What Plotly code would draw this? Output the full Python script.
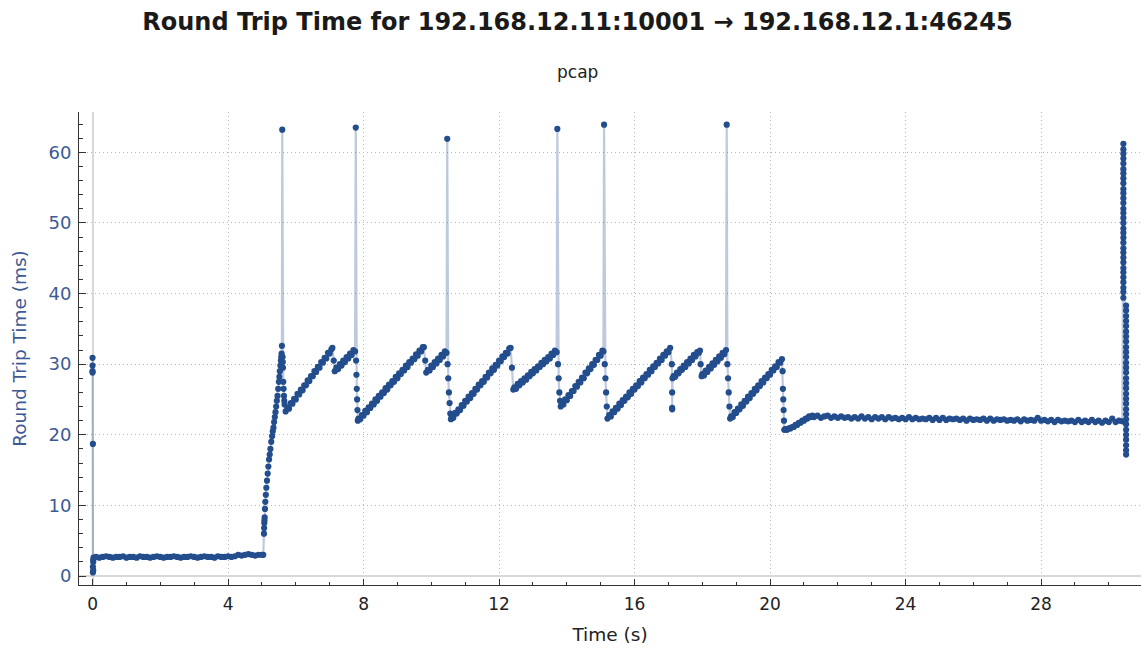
import plotly.graph_objects as go

# ---- data (time in s, RTT in ms) ----
start_t = [0.00, 0.00, 0.00, 0.00, 0.01, 0.01, 0.01, 0.02, 0.02, 0.02, 0.03]
start_v = [30.9, 29.8, 29.0, 28.8, 18.7, 0.5, 1.3, 2.0, 0.8, 2.3, 2.6]

flat0_t = [0.1, 0.2, 0.3, 0.4, 0.5, 0.6, 0.7, 0.8, 0.9, 1.0,
           1.1, 1.2, 1.3, 1.4, 1.5, 1.6, 1.7, 1.8, 1.9, 2.0,
           2.1, 2.2, 2.3, 2.4, 2.5, 2.6, 2.7, 2.8, 2.9, 3.0,
           3.1, 3.2, 3.3, 3.4, 3.5, 3.6, 3.7, 3.8, 3.9, 4.0,
           4.1, 4.2, 4.3, 4.4, 4.5, 4.6, 4.7, 4.8, 4.9, 5.0, 5.04]
flat0_v = [2.7, 2.6, 2.7, 2.8, 2.7, 2.6, 2.7, 2.7, 2.8, 2.6,
           2.7, 2.7, 2.6, 2.8, 2.7, 2.7, 2.6, 2.7, 2.8, 2.7,
           2.6, 2.7, 2.7, 2.8, 2.7, 2.6, 2.7, 2.7, 2.8, 2.7,
           2.6, 2.7, 2.8, 2.7, 2.7, 2.6, 2.8, 2.7, 2.7, 2.8,
           2.7, 2.8, 3.0, 2.9, 3.0, 3.1, 3.0, 2.9, 3.0, 3.0, 3.0]

# ramp up, first spike and drop
ramp_t = [5.06, 5.065, 5.07, 5.075, 5.08, 5.09, 5.10, 5.115, 5.13, 5.15, 5.17, 5.19,
          5.21, 5.23, 5.25, 5.275, 5.30, 5.32, 5.34, 5.36, 5.38, 5.40, 5.42, 5.44,
          5.46, 5.48, 5.50, 5.515, 5.53, 5.545, 5.56, 5.57, 5.58, 5.59, 5.60,
          5.61, 5.615, 5.62, 5.63, 5.64, 5.65, 5.66, 5.67, 5.70]
ramp_v = [6.0, 6.8, 7.5, 7.9, 8.3, 9.5, 10.5, 11.5, 12.5, 13.5, 14.5, 15.5,
          16.5, 17.2, 18.0, 19.0, 19.8, 20.5, 21.0, 21.8, 22.5, 23.2, 24.0, 24.8,
          25.5, 26.5, 27.5, 28.2, 29.0, 29.8, 30.5, 31.0, 31.5, 32.6, 63.2,
          31.0, 30.3, 29.5, 27.5, 26.5, 25.5, 24.8, 24.3, 23.3]

# tooth 1 (5.75 s .. spike at 7.77 s)
tooth1_t = [5.75, 5.80, 5.85, 5.90, 5.95, 6.00, 6.05, 6.10, 6.15, 6.20, 6.25, 6.30,
            6.35, 6.40, 6.45, 6.50, 6.55, 6.60, 6.65, 6.70, 6.75, 6.80, 6.85, 6.90,
            6.95, 7.00, 7.05, 7.08, 7.12, 7.15,
            7.20, 7.25, 7.30, 7.35, 7.40, 7.45, 7.50, 7.55, 7.60, 7.65, 7.70, 7.75,
            7.77, 7.78, 7.79, 7.80, 7.81, 7.82, 7.83]
tooth1_v = [23.8, 23.7, 24.5, 24.4, 25.1, 25.0, 25.8, 25.7, 26.4, 26.3, 27.0, 27.0,
            27.7, 27.6, 28.3, 28.3, 29.0, 28.9, 29.6, 29.5, 30.3, 30.2, 30.9, 30.8,
            31.6, 31.5, 32.1, 32.3, 30.5, 29.0,
            29.5, 29.3, 30.0, 29.8, 30.5, 30.3, 31.0, 30.8, 31.5, 31.3, 32.0, 31.8,
            63.5, 30.5, 28.5, 26.5, 25.0, 23.5, 22.0]

# tooth 2 (7.85 s .. spike at 10.47 s)
tooth2_t = [7.85, 7.90, 7.95, 8.00, 8.05, 8.10, 8.15, 8.20, 8.25, 8.30, 8.35, 8.40,
            8.45, 8.50, 8.55, 8.60, 8.65, 8.70, 8.75, 8.80, 8.85, 8.90, 8.95, 9.00,
            9.05, 9.10, 9.15, 9.20, 9.25, 9.30, 9.35, 9.40, 9.45, 9.50, 9.55, 9.60,
            9.65, 9.70, 9.75, 9.78, 9.82, 9.85,
            9.90, 9.95, 10.00, 10.05, 10.10, 10.15, 10.20, 10.25, 10.30, 10.35, 10.40,
            10.45, 10.47, 10.48, 10.50, 10.52, 10.54, 10.56, 10.58]
tooth2_v = [22.3, 22.2, 22.8, 22.7, 23.4, 23.2, 23.9, 23.8, 24.4, 24.3, 25.0, 24.8,
            25.5, 25.4, 26.0, 25.9, 26.6, 26.4, 27.1, 27.0, 27.6, 27.5, 28.2, 28.0,
            28.7, 28.6, 29.2, 29.1, 29.8, 29.6, 30.3, 30.2, 30.8, 30.7, 31.4, 31.2,
            31.9, 31.8, 32.4, 32.4, 30.5, 28.8,
            29.2, 29.1, 29.8, 29.6, 30.3, 30.1, 30.8, 30.6, 31.3, 31.1, 31.8,
            31.6, 61.9, 30.0, 28.0, 26.0, 24.5, 23.0, 22.2]

# tooth 3 (10.60 s .. spike at 13.72 s)
tooth3_t = [10.60, 10.65, 10.70, 10.75, 10.80, 10.85, 10.90, 10.95, 11.00, 11.05,
            11.10, 11.15, 11.20, 11.25, 11.30, 11.35, 11.40, 11.45, 11.50, 11.55,
            11.60, 11.65, 11.70, 11.75, 11.80, 11.85, 11.90, 11.95, 12.00, 12.05,
            12.10, 12.15, 12.20, 12.25, 12.30, 12.34, 12.38, 12.42,
            12.45, 12.50, 12.55, 12.60, 12.65, 12.70, 12.75, 12.80, 12.85, 12.90,
            12.95, 13.00, 13.05, 13.10, 13.15, 13.20, 13.25, 13.30, 13.35, 13.40,
            13.45, 13.50, 13.55, 13.60, 13.65, 13.70,
            13.72, 13.74, 13.76, 13.78, 13.80, 13.82]
tooth3_v = [22.5, 22.4, 23.1, 23.0, 23.6, 23.5, 24.2, 24.1, 24.8, 24.7,
            25.4, 25.2, 25.9, 25.8, 26.5, 26.4, 27.1, 27.0, 27.6, 27.5,
            28.2, 28.1, 28.8, 28.7, 29.4, 29.2, 29.9, 29.8, 30.5, 30.4,
            31.1, 31.0, 31.6, 31.5, 32.2, 32.3, 29.5, 26.4,
            26.7, 26.5, 27.2, 27.0, 27.6, 27.4, 28.0, 27.8, 28.4, 28.3,
            28.9, 28.7, 29.3, 29.1, 29.7, 29.6, 30.2, 30.0, 30.6, 30.4,
            31.0, 30.8, 31.5, 31.3, 31.9, 31.7,
            63.3, 30.0, 28.0, 26.0, 24.8, 24.0]

# tooth 4 (13.85 s .. spike at 15.10 s)
tooth4_t = [13.85, 13.90, 13.95, 14.00, 14.05, 14.10, 14.15, 14.20, 14.25, 14.30,
            14.35, 14.40, 14.45, 14.50, 14.55, 14.60, 14.65, 14.70, 14.75, 14.80,
            14.85, 14.90, 14.95, 15.00, 15.05, 15.08,
            15.10, 15.12, 15.14, 15.16, 15.18, 15.20]
tooth4_v = [24.4, 24.3, 25.0, 24.9, 25.6, 25.5, 26.2, 26.2, 26.9, 26.8,
            27.5, 27.4, 28.1, 28.0, 28.8, 28.7, 29.4, 29.3, 30.0, 29.9,
            30.6, 30.6, 31.3, 31.2, 31.9, 31.8,
            63.9, 30.0, 28.0, 26.0, 24.0, 22.3]

# tooth 5 (15.25 s .. spike at 18.72 s)
tooth5_t = [15.25, 15.30, 15.35, 15.40, 15.45, 15.50, 15.55, 15.60, 15.65, 15.70,
            15.75, 15.80, 15.85, 15.90, 15.95, 16.00, 16.05, 16.10, 16.15, 16.20,
            16.25, 16.30, 16.35, 16.40, 16.45, 16.50, 16.55, 16.60, 16.65, 16.70,
            16.75, 16.80, 16.85, 16.90, 16.95, 17.00, 17.05,
            17.10, 17.11, 17.11, 17.11, 17.12,
            17.15, 17.20, 17.25, 17.30, 17.35, 17.40, 17.45, 17.50, 17.55, 17.60,
            17.65, 17.70, 17.75, 17.80, 17.85, 17.90, 17.93, 17.95, 17.98,
            18.00, 18.05, 18.10, 18.15, 18.20, 18.25, 18.30, 18.35, 18.40, 18.45,
            18.50, 18.55, 18.60, 18.65, 18.70,
            18.72, 18.74, 18.76, 18.78, 18.80, 18.82]
tooth5_v = [22.8, 22.6, 23.3, 23.2, 23.8, 23.7, 24.4, 24.2, 24.9, 24.8,
            25.4, 25.3, 26.0, 25.8, 26.5, 26.4, 27.0, 26.9, 27.6, 27.4,
            28.1, 28.0, 28.6, 28.5, 29.2, 29.0, 29.7, 29.6, 30.2, 30.1,
            30.8, 30.6, 31.3, 31.2, 31.8, 31.7, 32.3,
            30.0, 26.0, 23.6, 23.8, 28.0,
            28.3, 28.2, 28.8, 28.7, 29.3, 29.2, 29.8, 29.6, 30.3, 30.1,
            30.8, 30.6, 31.3, 31.1, 31.7, 31.6, 31.9, 30.0, 28.3,
            28.6, 28.4, 29.1, 28.9, 29.6, 29.4, 30.1, 29.9, 30.6, 30.4,
            31.1, 30.9, 31.6, 31.4, 32.0,
            63.9, 30.0, 28.0, 26.0, 24.0, 22.3]

# tooth 6 (18.85 s .. drop at 20.4 s) and recovery to plateau
tooth6_t = [18.85, 18.90, 18.95, 19.00, 19.05, 19.10, 19.15, 19.20, 19.25, 19.30,
            19.35, 19.40, 19.45, 19.50, 19.55, 19.60, 19.65, 19.70, 19.75, 19.80,
            19.85, 19.90, 19.95, 20.00, 20.05, 20.10, 20.15, 20.20, 20.25, 20.30,
            20.35, 20.37, 20.38, 20.39, 20.40, 20.41, 20.42,
            20.45, 20.50, 20.55, 20.60, 20.65, 20.70, 20.75, 20.80, 20.85, 20.90,
            20.95, 21.00, 21.05, 21.10, 21.15, 21.20, 21.25]
tooth6_v = [22.6, 22.5, 23.2, 23.1, 23.7, 23.6, 24.3, 24.1, 24.8, 24.7,
            25.4, 25.2, 25.9, 25.8, 26.5, 26.3, 27.0, 26.9, 27.6, 27.4,
            28.1, 28.0, 28.6, 28.5, 29.2, 29.1, 29.7, 29.6, 30.3, 30.2,
            30.7, 29.0, 26.5, 25.0, 23.5, 22.0, 20.7,
            20.8, 20.7, 20.9, 20.9, 21.1, 21.1, 21.4, 21.4, 21.7, 21.7,
            22.0, 22.0, 22.3, 22.3, 22.6, 22.5, 22.7]

flat2_t = [21.3, 21.4, 21.5, 21.6, 21.7, 21.8, 21.9, 22.0, 22.1, 22.2,
           22.3, 22.4, 22.5, 22.6, 22.7, 22.8, 22.9, 23.0, 23.1, 23.2,
           23.3, 23.4, 23.5, 23.6, 23.7, 23.8, 23.9, 24.0, 24.1, 24.2,
           24.3, 24.4, 24.5, 24.6, 24.7, 24.8, 24.9, 25.0, 25.1, 25.2,
           25.3, 25.4, 25.5, 25.6, 25.7, 25.8, 25.9, 26.0, 26.1, 26.2,
           26.3, 26.4, 26.5, 26.6, 26.7, 26.8, 26.9, 27.0, 27.1, 27.2,
           27.3, 27.4, 27.5, 27.6, 27.7, 27.8, 27.9, 28.0, 28.1, 28.2,
           28.3, 28.4, 28.5, 28.6, 28.7, 28.8, 28.9, 29.0, 29.1, 29.2,
           29.3, 29.4, 29.5, 29.6, 29.7, 29.8, 29.9, 30.0, 30.1, 30.2,
           30.3, 30.4]
flat2_v = [22.5, 22.7, 22.4, 22.6, 22.7, 22.4, 22.6, 22.4, 22.6, 22.4,
           22.5, 22.3, 22.5, 22.3, 22.6, 22.3, 22.5, 22.2, 22.5, 22.3,
           22.5, 22.2, 22.5, 22.3, 22.4, 22.2, 22.4, 22.2, 22.5, 22.2,
           22.4, 22.2, 22.3, 22.2, 22.4, 22.1, 22.4, 22.1, 22.4, 22.1,
           22.3, 22.2, 22.3, 22.1, 22.3, 22.0, 22.3, 22.1, 22.2, 22.1,
           22.3, 22.0, 22.3, 22.0, 22.2, 22.1, 22.2, 22.0, 22.1, 22.0,
           22.2, 21.9, 22.2, 22.0, 22.1, 22.0, 22.4, 22.0, 22.1, 21.9,
           22.1, 21.8, 22.1, 21.9, 22.0, 21.9, 22.0, 21.8, 22.1, 21.8,
           22.0, 21.8, 22.1, 21.8, 22.0, 21.7, 22.0, 21.8, 22.3, 21.8,
           22.0, 21.9]

end_t = [30.43, 30.43, 30.43, 30.43, 30.43, 30.43, 30.43, 30.43, 30.43, 30.43,
         30.43, 30.43, 30.43, 30.43, 30.43, 30.43, 30.43, 30.43, 30.43, 30.43,
         30.43, 30.43, 30.43, 30.43, 30.43, 30.43, 30.43, 30.43, 30.43, 30.43,
         30.43, 30.43,
         30.51, 30.51, 30.51, 30.51, 30.51, 30.51, 30.51, 30.51, 30.51, 30.51,
         30.51, 30.51, 30.51, 30.51, 30.51, 30.51, 30.51, 30.51, 30.51, 30.51,
         30.51, 30.51, 30.51, 30.51, 30.51, 30.51, 30.51, 30.51, 30.51, 30.51]
end_v = [61.2, 60.4, 59.8, 59.1, 58.4, 57.6, 57.0, 56.3, 55.6, 54.8,
         54.2, 53.5, 52.8, 52.0, 51.4, 50.7, 50.0, 49.2, 48.6, 47.9,
         47.2, 46.4, 45.8, 45.1, 44.4, 43.6, 43.0, 42.3, 41.6, 40.8,
         40.2, 39.4,
         38.3, 37.6, 36.8, 36.1, 35.4, 34.6, 33.9, 33.2, 32.4, 31.7,
         31.0, 30.2, 29.5, 28.8, 28.0, 27.3, 26.6, 25.8, 25.1, 24.4,
         23.6, 22.9, 22.2, 21.5, 20.7, 20.0, 19.3, 18.5, 17.8, 17.2]

time_s = (start_t + flat0_t + ramp_t + tooth1_t + tooth2_t + tooth3_t
          + tooth4_t + tooth5_t + tooth6_t + flat2_t + end_t)
rtt_ms = (start_v + flat0_v + ramp_v + tooth1_v + tooth2_v + tooth3_v
          + tooth4_v + tooth5_v + tooth6_v + flat2_v + end_v)

x_ticks = [0, 4, 8, 12, 16, 20, 24, 28]
y_ticks = [0, 10, 20, 30, 40, 50, 60]

TITLE = "Round Trip Time for 192.168.12.11:10001 \u2192 192.168.12.1:46245"
SUBTITLE = "pcap"

MARK = "#234d8c"
BLUE_TXT = "#3d5a96"
FONT = "DejaVu Sans"

fig = go.Figure()
fig.add_trace(go.Scatter(
    x=time_s, y=rtt_ms, mode="lines+markers",
    line=dict(color="rgba(35,77,140,0.30)", width=2.2),
    marker=dict(color=MARK, size=6.2, line=dict(width=0)),
    showlegend=False, hoverinfo="x+y"))

axis_common = dict(
    showline=True, linecolor="#333333", linewidth=1,
    ticks="inside", tickcolor="#333333",
    showgrid=True, gridcolor="#b8b8b8", griddash="1px,3px", gridwidth=1,
    zeroline=True, zerolinecolor="#d8d8d8", zerolinewidth=2,
)

fig.update_layout(
    width=1141, height=649,
    margin=dict(l=79, r=0, t=112, b=64),
    paper_bgcolor="white", plot_bgcolor="white",
    font=dict(family=FONT, color="#222222"),
    title=dict(text=TITLE, x=577.5 / 1141, xref="container", xanchor="center",
               y=1 - 22 / 649, yref="container", yanchor="middle",
               font=dict(family=FONT, size=24, color="#1a1a1a", weight="bold")),
    annotations=[dict(text=SUBTITLE, x=0.4694, y=1.0846, xref="paper",
                      yref="paper", xanchor="center", yanchor="middle",
                      showarrow=False, font=dict(family=FONT, size=17, color="#222222"))],
    xaxis=dict(range=[-0.40, 30.95], tickvals=x_ticks, ticklen=6,
               tickfont=dict(size=17, color="#222222"), ticklabelstandoff=4,
               title=dict(text="Time (s)", font=dict(size=18.5, color="#222222"), standoff=14),
               minor=dict(dtick=1, tick0=0, ticklen=3, ticks="inside",
                          tickcolor="#333333", showgrid=False),
               **axis_common),
    yaxis=dict(range=[-1.27, 65.7], tickvals=y_ticks, ticklen=7,
               tickfont=dict(size=18, color=BLUE_TXT), ticklabelstandoff=3,
               title=dict(text="Round Trip Time (ms)", font=dict(size=18.5, color=BLUE_TXT), standoff=17),
               minor=dict(dtick=2, tick0=0, ticklen=4, ticks="inside",
                          tickcolor="#333333", showgrid=False),
               **axis_common),
)

fig.write_html("out.html")
